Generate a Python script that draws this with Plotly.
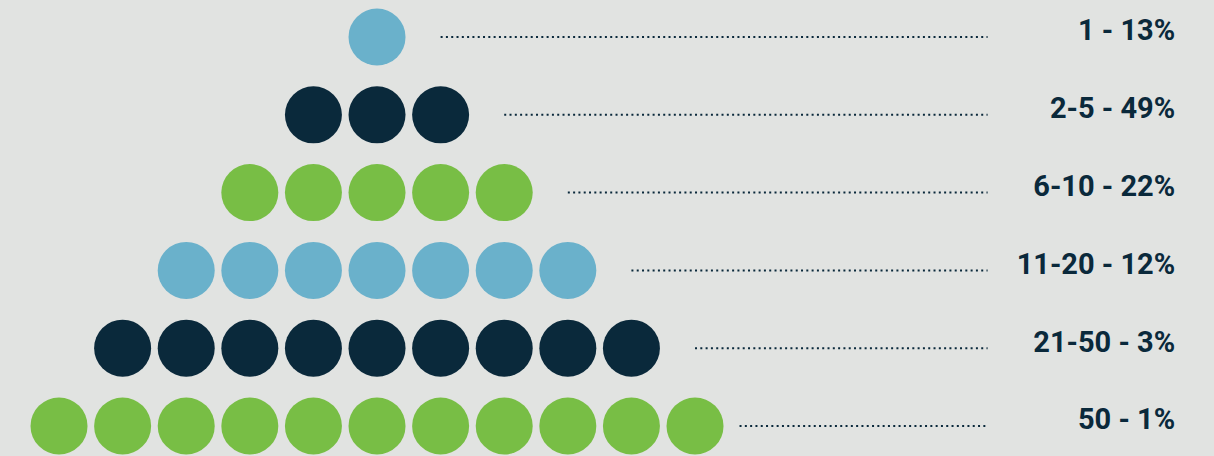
import plotly.graph_objects as go

# data
labels = ['1 - 13%', '2-5 - 49%', '6-10 - 22%', '11-20 - 12%', '21-50 - 3%', '50 - 1%']
counts = [1, 3, 5, 7, 9, 11]
colors = ['#6ab1cb', '#0a293b', '#78be45', '#6ab1cb', '#0a293b', '#78be45']

BG = '#e1e3e1'
NAVY = '#0a293b'
LINE_END = 9.6
LINE_START_MAX = 5.7
LABEL_X = 12.55

fig = go.Figure()

for row, (n, col) in enumerate(zip(counts, colors)):
    half = n // 2
    xs = list(range(-half, half + 1))
    fig.add_trace(go.Scatter(
        x=xs, y=[row] * n, mode='markers',
        marker=dict(size=57, color=col, line=dict(width=0)),
        hoverinfo='skip', showlegend=False
    ))
    # dotted leader
    fig.add_trace(go.Scatter(
        x=[min(half + 1, LINE_START_MAX), LINE_END], y=[row, row], mode='lines',
        line=dict(color=NAVY, width=2, dash='2px,3.3px'),
        hoverinfo='skip', showlegend=False
    ))

fig.add_trace(go.Scatter(
    x=[LABEL_X] * len(labels), y=[r - 0.05 for r in range(len(labels))],
    mode='text', text=labels, textposition='middle left',
    textfont=dict(family='Roboto', size=29, color=NAVY, weight='bold'),
    hoverinfo='skip', showlegend=False
))

fig.update_layout(
    width=1214, height=456,
    margin=dict(l=0, r=0, t=0, b=0),
    paper_bgcolor=BG, plot_bgcolor=BG,
    xaxis=dict(range=[-5.928, 13.16], visible=False, fixedrange=True),
    yaxis=dict(range=[5.386, -0.476], visible=False, fixedrange=True),
)

fig.write_html("out.html", config={'displayModeBar': False},
               post_script="document.body.style.margin='0';")
